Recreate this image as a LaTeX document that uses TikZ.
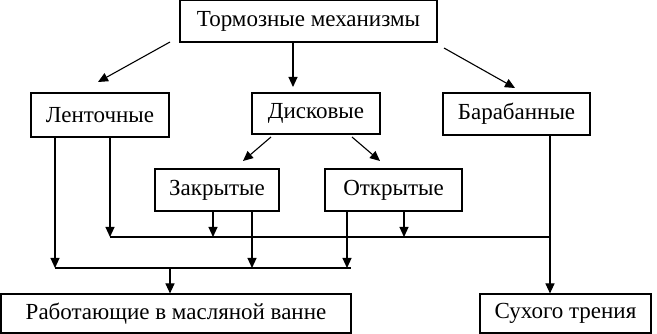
\documentclass[tikz,border=0pt]{standalone}
\usepackage{fontspec}
\setmainfont{Liberation Serif}
\usetikzlibrary{arrows.meta}
\begin{document}
\begin{tikzpicture}[x=1pt,y=-1pt,
  box/.style={draw,line width=1.1pt,inner sep=0pt,font=\fontsize{23}{27}\selectfont},
  ln/.style={line width=1.1pt},
  arr/.style={line width=1.1pt,-{Triangle[length=10pt,width=9pt]}}]
\useasboundingbox (0,0) rectangle (657,334);
\node[box,minimum width=257pt,minimum height=42pt] (top) at (308.5,21) {Тормозные механизмы};
\node[box,minimum width=138pt,minimum height=44pt] (lent) at (100,115) {Ленточные};
\node[box,minimum width=128pt,minimum height=41pt] (disk) at (316,113.5) {Дисковые};
\node[box,minimum width=147pt,minimum height=42pt] (barab) at (516.5,114) {Барабанные};
\node[box,minimum width=124pt,minimum height=42pt] (zakr) at (217,190) {Закрытые};
\node[box,minimum width=137pt,minimum height=42pt] (otkr) at (393.5,190) {Открытые};
\node[box,minimum width=350pt,minimum height=39pt] (rab) at (176,313.5) {Работающие в масляной ванне};
\node[box,minimum width=171pt,minimum height=39pt] (such) at (565.5,313.5) {Сухого трения};
% top arrows
\coordinate (t1) at (170,42); \coordinate (l1) at (98,82);
\coordinate (t2) at (293,42); \coordinate (d1) at (293,87);
\coordinate (t3) at (444,48); \coordinate (b1) at (515,88);
\draw[arr] (t1) -- (l1);
\draw[arr] (top.south -| t2) -- (d1);
\draw[arr] (t3) -- (b1);
% disk arrows
\coordinate (ds1) at (271,137); \coordinate (z1) at (243,161);
\coordinate (ds2) at (352,137); \coordinate (o1) at (380,161);
\draw[arr] (ds1) -- (z1);
\draw[arr] (ds2) -- (o1);
% buses
\coordinate (busA) at (110,237); \coordinate (busAe) at (550,237);
\coordinate (busB) at (55,268); \coordinate (busBe) at (351,268);
\draw[ln] (busA) -- (busAe);
\draw[ln] (busB) -- (busBe);
\draw[arr] (lent.south -| busB) -- (busB);
\draw[arr] (lent.south -| busA) -- (busA);
\draw[arr] (zakr.south -| 213,0) -- (213,237);
\draw[arr] (zakr.south -| 252,0) -- (252,268);
\draw[arr] (otkr.south -| 347,0) -- (347,268);
\draw[arr] (otkr.south -| 404,0) -- (404,237);
\draw[arr] (barab.south -| busAe) -- (such.north -| busAe);
\draw[arr] (busB -| 170,0) -- (rab.north -| 170,0);
\end{tikzpicture}
\end{document}
